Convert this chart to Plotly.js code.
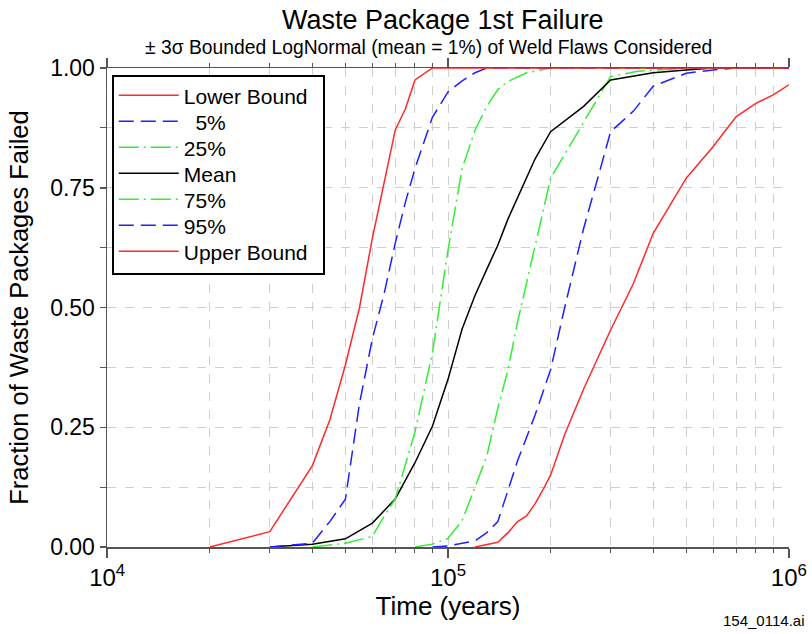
<!DOCTYPE html>
<html><head><meta charset="utf-8">
<script src="https://cdn.plot.ly/plotly-3.0.1.min.js"></script>
<style>html,body{margin:0;padding:0;background:#fff}</style>
</head><body><div id="chart" style="width:812px;height:634px"></div>
<script>
// Time (years) and fraction of waste packages failed for each curve
const lowerT = [20000, 30000, 40000, 45000, 50000, 55000, 60000, 65000, 70000, 75000, 80000, 90000, 1000000];
const lowerY = [0, 0.032, 0.17, 0.265, 0.38, 0.50, 0.645, 0.76, 0.87, 0.915, 0.975, 1.0, 1.0];

const p5T = [30000, 40000, 45000, 50000, 55000, 60000, 65000, 70000, 75000, 80000, 90000, 100000, 110000, 120000, 130000, 1000000];
const p5Y = [0, 0.008, 0.053, 0.10, 0.30, 0.435, 0.53, 0.634, 0.72, 0.79, 0.897, 0.95, 0.973, 0.99, 1.0, 1.0];

const p25T = [40000, 50000, 60000, 65000, 70000, 75000, 80000, 90000, 100000, 110000, 120000, 130000, 140000, 150000, 170000, 200000, 1000000];
const p25Y = [0, 0.008, 0.022, 0.065, 0.10, 0.175, 0.24, 0.405, 0.62, 0.79, 0.87, 0.92, 0.955, 0.972, 0.99, 1.0, 1.0];

const meanT = [30000, 40000, 50000, 60000, 70000, 80000, 90000, 100000, 110000, 120000, 130000, 140000, 150000, 160000, 180000, 200000, 250000, 300000, 400000, 500000, 600000, 1000000];
const meanY = [0, 0.006, 0.017, 0.05, 0.10, 0.176, 0.252, 0.35, 0.455, 0.525, 0.58, 0.63, 0.685, 0.73, 0.81, 0.867, 0.92, 0.975, 0.99, 0.996, 1.0, 1.0];

const p75T = [80000, 90000, 100000, 110000, 120000, 130000, 140000, 150000, 160000, 170000, 180000, 190000, 200000, 220000, 250000, 300000, 360000, 500000, 1000000];
const p75Y = [0, 0.006, 0.018, 0.055, 0.125, 0.19, 0.29, 0.37, 0.47, 0.555, 0.628, 0.70, 0.77, 0.82, 0.886, 0.982, 0.993, 1.0, 1.0];

const p95T = [90000, 100000, 120000, 130000, 140000, 150000, 160000, 180000, 200000, 220000, 250000, 280000, 300000, 350000, 400000, 500000, 600000, 700000, 1000000];
const p95Y = [0, 0.002, 0.013, 0.03, 0.053, 0.12, 0.18, 0.275, 0.37, 0.50, 0.665, 0.79, 0.867, 0.91, 0.962, 0.989, 0.996, 1.0, 1.0];

const upperT = [120000, 140000, 150000, 160000, 170000, 180000, 190000, 200000, 220000, 250000, 300000, 350000, 400000, 500000, 600000, 700000, 800000, 900000, 1000000];
const upperY = [0, 0.01, 0.03, 0.053, 0.065, 0.09, 0.12, 0.15, 0.235, 0.33, 0.453, 0.55, 0.655, 0.77, 0.836, 0.898, 0.926, 0.944, 0.965];

const names = ['Lower Bound', '\u00a0\u00a05%', '25%', 'Mean', '75%', '95%', 'Upper Bound'];
const yTickVals = [0, 0.25, 0.5, 0.75, 1.0];
const xTickVals = [1e4, 1e5, 1e6];
const xTickText = ['10<sup>4</sup>', '10<sup>5</sup>', '10<sup>6</sup>'];

const RED = '#ff2a2a', BLUE = '#1f1fff', GREEN = '#33ee33', BLACK = '#000000';
const DASH_B = '15px,7px';
const DASH_G = '20px,5px,2px,5px';

function tr(x, y, name, color, dash) {
  return {x: x, y: y, name: name, type: 'scatter', mode: 'lines',
          line: {color: color, width: 1.5, dash: dash}, hoverinfo: 'skip'};
}
// added in reverse so the legend (reversed) lists Lower Bound first and red draws on top
const data = [
  tr(upperT, upperY, names[6], RED, 'solid'),
  tr(p95T, p95Y, names[5], BLUE, DASH_B),
  tr(p75T, p75Y, names[4], GREEN, DASH_G),
  tr(meanT, meanY, names[3], BLACK, 'solid'),
  tr(p25T, p25Y, names[2], GREEN, DASH_G),
  tr(p5T, p5Y, names[1], BLUE, DASH_B),
  tr(lowerT, lowerY, names[0], RED, 'solid')
];

const FONT = 'Liberation Sans, Arial, sans-serif';
const AX = '#555555';
const layout = {
  width: 812, height: 634,
  margin: {l: 107, r: 23, t: 68, b: 87},
  paper_bgcolor: '#ffffff', plot_bgcolor: '#ffffff',
  font: {family: FONT, color: '#000'},
  showlegend: true,
  legend: {x: 0.007, y: 0.985, xanchor: 'left', yanchor: 'top', bgcolor: '#ffffff',
           bordercolor: '#000', borderwidth: 2, font: {size: 21, family: FONT, color: '#000'},
           traceorder: 'reversed', itemwidth: 60},
  xaxis: {type: 'log', range: [3.9995, 6.0005], tickvals: xTickVals, ticktext: xTickText,
          ticklabeloverflow: 'allow',
          showline: true, linecolor: AX, linewidth: 1.5, mirror: 'ticks',
          ticks: 'outside', ticklen: 9, tickcolor: AX, tickwidth: 1.5,
          tickfont: {size: 24, family: FONT},
          showgrid: false, zeroline: false,
          minor: {dtick: 'D1', ticks: 'outside', ticklen: 4, tickcolor: AX, tickwidth: 1,
                  showgrid: true, gridcolor: '#cfcfcf', griddash: 'dash', gridwidth: 1},
          title: {text: 'Time (years)', font: {size: 26, family: FONT}, standoff: 6}},
  yaxis: {range: [0, 1], tickvals: yTickVals, tickformat: '.2f',
          showline: true, linecolor: AX, linewidth: 1.5,
          ticks: 'outside', ticklen: 6, tickcolor: AX, tickwidth: 1.5,
          tickfont: {size: 23, family: FONT},
          showgrid: true, gridcolor: '#cfcfcf', griddash: 'dash', gridwidth: 1, zeroline: false,
          minor: {dtick: 0.125, ticks: 'outside', ticklen: 6, tickcolor: AX, tickwidth: 1,
                  showgrid: true, gridcolor: '#cfcfcf', griddash: 'dash', gridwidth: 1},
          title: {text: 'Fraction of Waste Packages Failed', font: {size: 25.5, family: FONT}, standoff: 14}},
  yaxis2: {overlaying: 'y', side: 'right', anchor: 'x', range: [0, 1], tickvals: yTickVals,
           showticklabels: false, showline: true, linecolor: AX, linewidth: 1.5,
           ticks: 'inside', ticklen: 7, tickcolor: AX, tickwidth: 1.5, showgrid: false, zeroline: false,
           minor: {dtick: 0.125, ticks: 'inside', ticklen: 7, tickcolor: AX, showgrid: false}},
  annotations: [
    {text: 'Waste Package 1st Failure', xref: 'paper', yref: 'paper', x: 0.4927, y: 1.100,
     xanchor: 'center', yanchor: 'middle', showarrow: false, font: {size: 27, family: FONT, color: '#000'}},
    {text: '\u00b1 3\u03c3 Bounded LogNormal (mean = 1%) of Weld Flaws Considered', xref: 'paper', yref: 'paper',
     x: 0.4707, y: 1.0438, xanchor: 'center', yanchor: 'middle', showarrow: false,
     font: {size: 19.3, family: FONT, color: '#000'}},
    {text: '154_0114.ai', xref: 'paper', yref: 'paper', x: 1.025, y: -0.153,
     xanchor: 'right', yanchor: 'middle', showarrow: false, font: {size: 15, family: FONT, color: '#000'}}
  ]
};
Plotly.newPlot('chart', data, layout, {staticPlot: true, displayModeBar: false}).then(function (gd) {
  // tighten legend row spacing and widen the box to match the reference legend
  const leg = gd.querySelector('.legend');
  if (!leg) return;
  const items = Array.from(leg.querySelectorAll('.traces'));
  const parsed = items.map(function (g) {
    const m = /translate\(\s*([-\d.]+)[ ,]+([-\d.]+)\s*\)/.exec(g.getAttribute('transform') || '');
    return {g: g, x: m ? parseFloat(m[1]) : 0, y: m ? parseFloat(m[2]) : 0};
  }).sort(function (a, b) { return a.y - b.y; });
  if (!parsed.length) return;
  const y0 = parsed[0].y - 2;
  const STEP = 26;
  parsed.forEach(function (p, i) {
    p.g.setAttribute('transform', 'translate(' + p.x + ',' + (y0 + i * STEP) + ')');
  });
  const bg = leg.querySelector('rect.bg');
  if (bg) { bg.setAttribute('height', 198); bg.setAttribute('width', 211); }
  leg.querySelectorAll('clipPath rect, .scrollbox rect').forEach(function (r) {
    r.setAttribute('height', 198); r.setAttribute('width', 211);
  });
});
</script>
</body></html>
